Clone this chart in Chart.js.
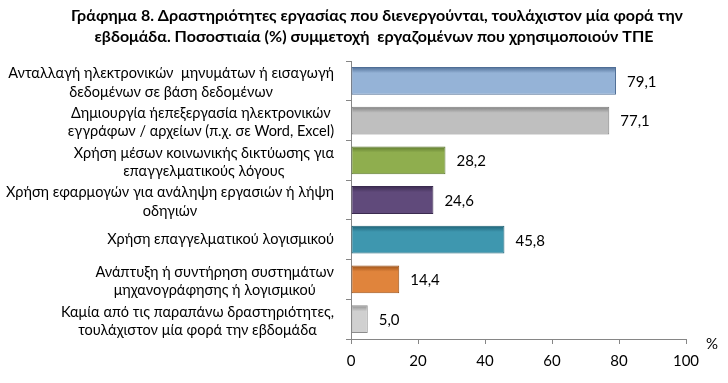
<!DOCTYPE html>
<html lang="el">
<head>
    <meta charset="UTF-8">
    <title>Γράφημα 8</title>
    <style>
        html, body {
            margin: 0;
            padding: 0;
            background: #fff;
        }
        #wrap {
            width: 728px;
            height: 383px;
            position: relative;
        }
    </style>
    <script src="https://cdn.jsdelivr.net/npm/chart.js"></script>
</head>
<body>
    <div id="wrap">
        <canvas id="chart" width="728" height="383"></canvas>
    </div>
    <script>
        // Categories (each entry = lines of the label)
        var categories = [
            ['Ανταλλαγή ηλεκτρονικών  μηνυμάτων ή εισαγωγή', 'δεδομένων σε βάση δεδομένων'],
            ['Δημιουργία ήεπεξεργασία ηλεκτρονικών', 'εγγράφων / αρχείων (π.χ. σε Word, Excel)'],
            ['Χρήση μέσων κοινωνικής δικτύωσης για', 'επαγγελματικούς λόγους'],
            ['Χρήση εφαρμογών για ανάληψη εργασιών ή λήψη', 'οδηγιών'],
            ['Χρήση επαγγελματικού λογισμικού'],
            ['Ανάπτυξη ή συντήρηση συστημάτων', 'μηχανογράφησης ή λογισμικού'],
            ['Καμία από τις παραπάνω δραστηριότητες,', 'τουλάχιστον μία φορά την εβδομάδα']
        ];
        var values = [79.1, 77.1, 28.2, 24.6, 45.8, 14.4, 5.0];
        var xTicks = [0, 20, 40, 60, 80, 100];

        var barColors = ['#95B3D7', '#BFBFBF', '#8FAE4E', '#604A7B', '#3E97AF', '#E0843C', '#D0D0D0'];
        var edgeColors = ['#4F6E96', '#7F7F7F', '#5E7A2E', '#3B2B50', '#1F6377', '#9C5218', '#8C8C8C'];

        var titleLines = [
            'Γράφημα 8. Δραστηριότητες εργασίας που διενεργούνται, τουλάχιστον μία φορά την',
            'εβδομάδα. Ποσοστιαία (%) συμμετοχή  εργαζομένων που χρησιμοποιούν ΤΠΕ'
        ];

        function fmt(v) {
            return v.toFixed(1).replace('.', ',');
        }

        // vertical gradient per bar: dark top edge fading to the base colour
        function barFill(ctx) {
            var chart = ctx.chart;
            var i = ctx.dataIndex;
            var y = chart.scales.y;
            if (!y || y.top === undefined) return barColors[i];
            var step = Math.abs(y.getPixelForValue(1) - y.getPixelForValue(0));
            var h = step * 0.7;
            var top = y.getPixelForValue(i) - h / 2;
            var g = chart.ctx.createLinearGradient(0, top, 0, top + h);
            g.addColorStop(0, edgeColors[i]);
            g.addColorStop(0.22, barColors[i]);
            g.addColorStop(1, barColors[i]);
            return g;
        }

        var textPlugin = {
            id: 'texts',
            afterDraw: function (chart) {
                var c = chart.ctx;
                var area = chart.chartArea;
                var y = chart.scales.y;
                var meta = chart.getDatasetMeta(0);
                c.save();

                // title
                c.fillStyle = '#000';
                c.font = 'bold 16px Lato';
                c.textAlign = 'center';
                c.textBaseline = 'middle';
                c.fillText(titleLines[0], 377, 16);
                c.fillText(titleLines[1], 374, 37);

                // category labels: block right aligned, lines centred inside
                c.font = '14.5px Lato';
                var lh = 18.5;
                categories.forEach(function (lines, i) {
                    var w = 0;
                    lines.forEach(function (l) { w = Math.max(w, c.measureText(l).width); });
                    var cx = area.left - 17 - w / 2;
                    var cy = y.getPixelForValue(i) + (lines.length > 1 ? 2 : 0);
                    var start = cy - (lines.length - 1) * lh / 2;
                    lines.forEach(function (l, k) {
                        c.fillText(l, cx, start + k * lh);
                    });
                });

                // value labels
                c.font = '15px Lato';
                c.textAlign = 'left';
                meta.data.forEach(function (bar, i) {
                    c.fillText(fmt(values[i]), bar.x + 11, bar.y + 1);
                });

                // unit
                c.fillText('%', area.right + 20, area.bottom + 5);
                c.restore();
            }
        };

        new Chart(document.getElementById('chart'), {
            type: 'bar',
            data: {
                labels: categories,
                datasets: [{
                    data: values,
                    backgroundColor: barFill,
                    borderColor: edgeColors,
                    borderWidth: 1,
                    borderSkipped: false,
                    categoryPercentage: 1,
                    barPercentage: 0.7
                }]
            },
            options: {
                indexAxis: 'y',
                responsive: false,
                animation: false,
                layout: {
                    padding: { top: 61, right: 42, bottom: 5, left: 0 }
                },
                plugins: {
                    legend: { display: false },
                    tooltip: { enabled: false },
                    title: { display: false }
                },
                scales: {
                    x: {
                        min: 0,
                        max: 100,
                        afterBuildTicks: function (scale) {
                            scale.ticks = xTicks.map(function (v) { return { value: v }; });
                        },
                        grid: {
                            drawOnChartArea: false,
                            tickLength: 5,
                            color: '#868686'
                        },
                        border: { color: '#868686' },
                        ticks: {
                            color: '#000',
                            font: { family: 'Lato', size: 15 },
                            padding: 8
                        }
                    },
                    y: {
                        afterFit: function (scale) {
                            scale.width = 351;
                        },
                        grid: {
                            drawOnChartArea: false,
                            tickLength: 5,
                            color: '#868686',
                            offset: true
                        },
                        border: { color: '#868686' },
                        ticks: { display: false }
                    }
                }
            },
            plugins: [textPlugin]
        });
    </script>
</body>
</html>
